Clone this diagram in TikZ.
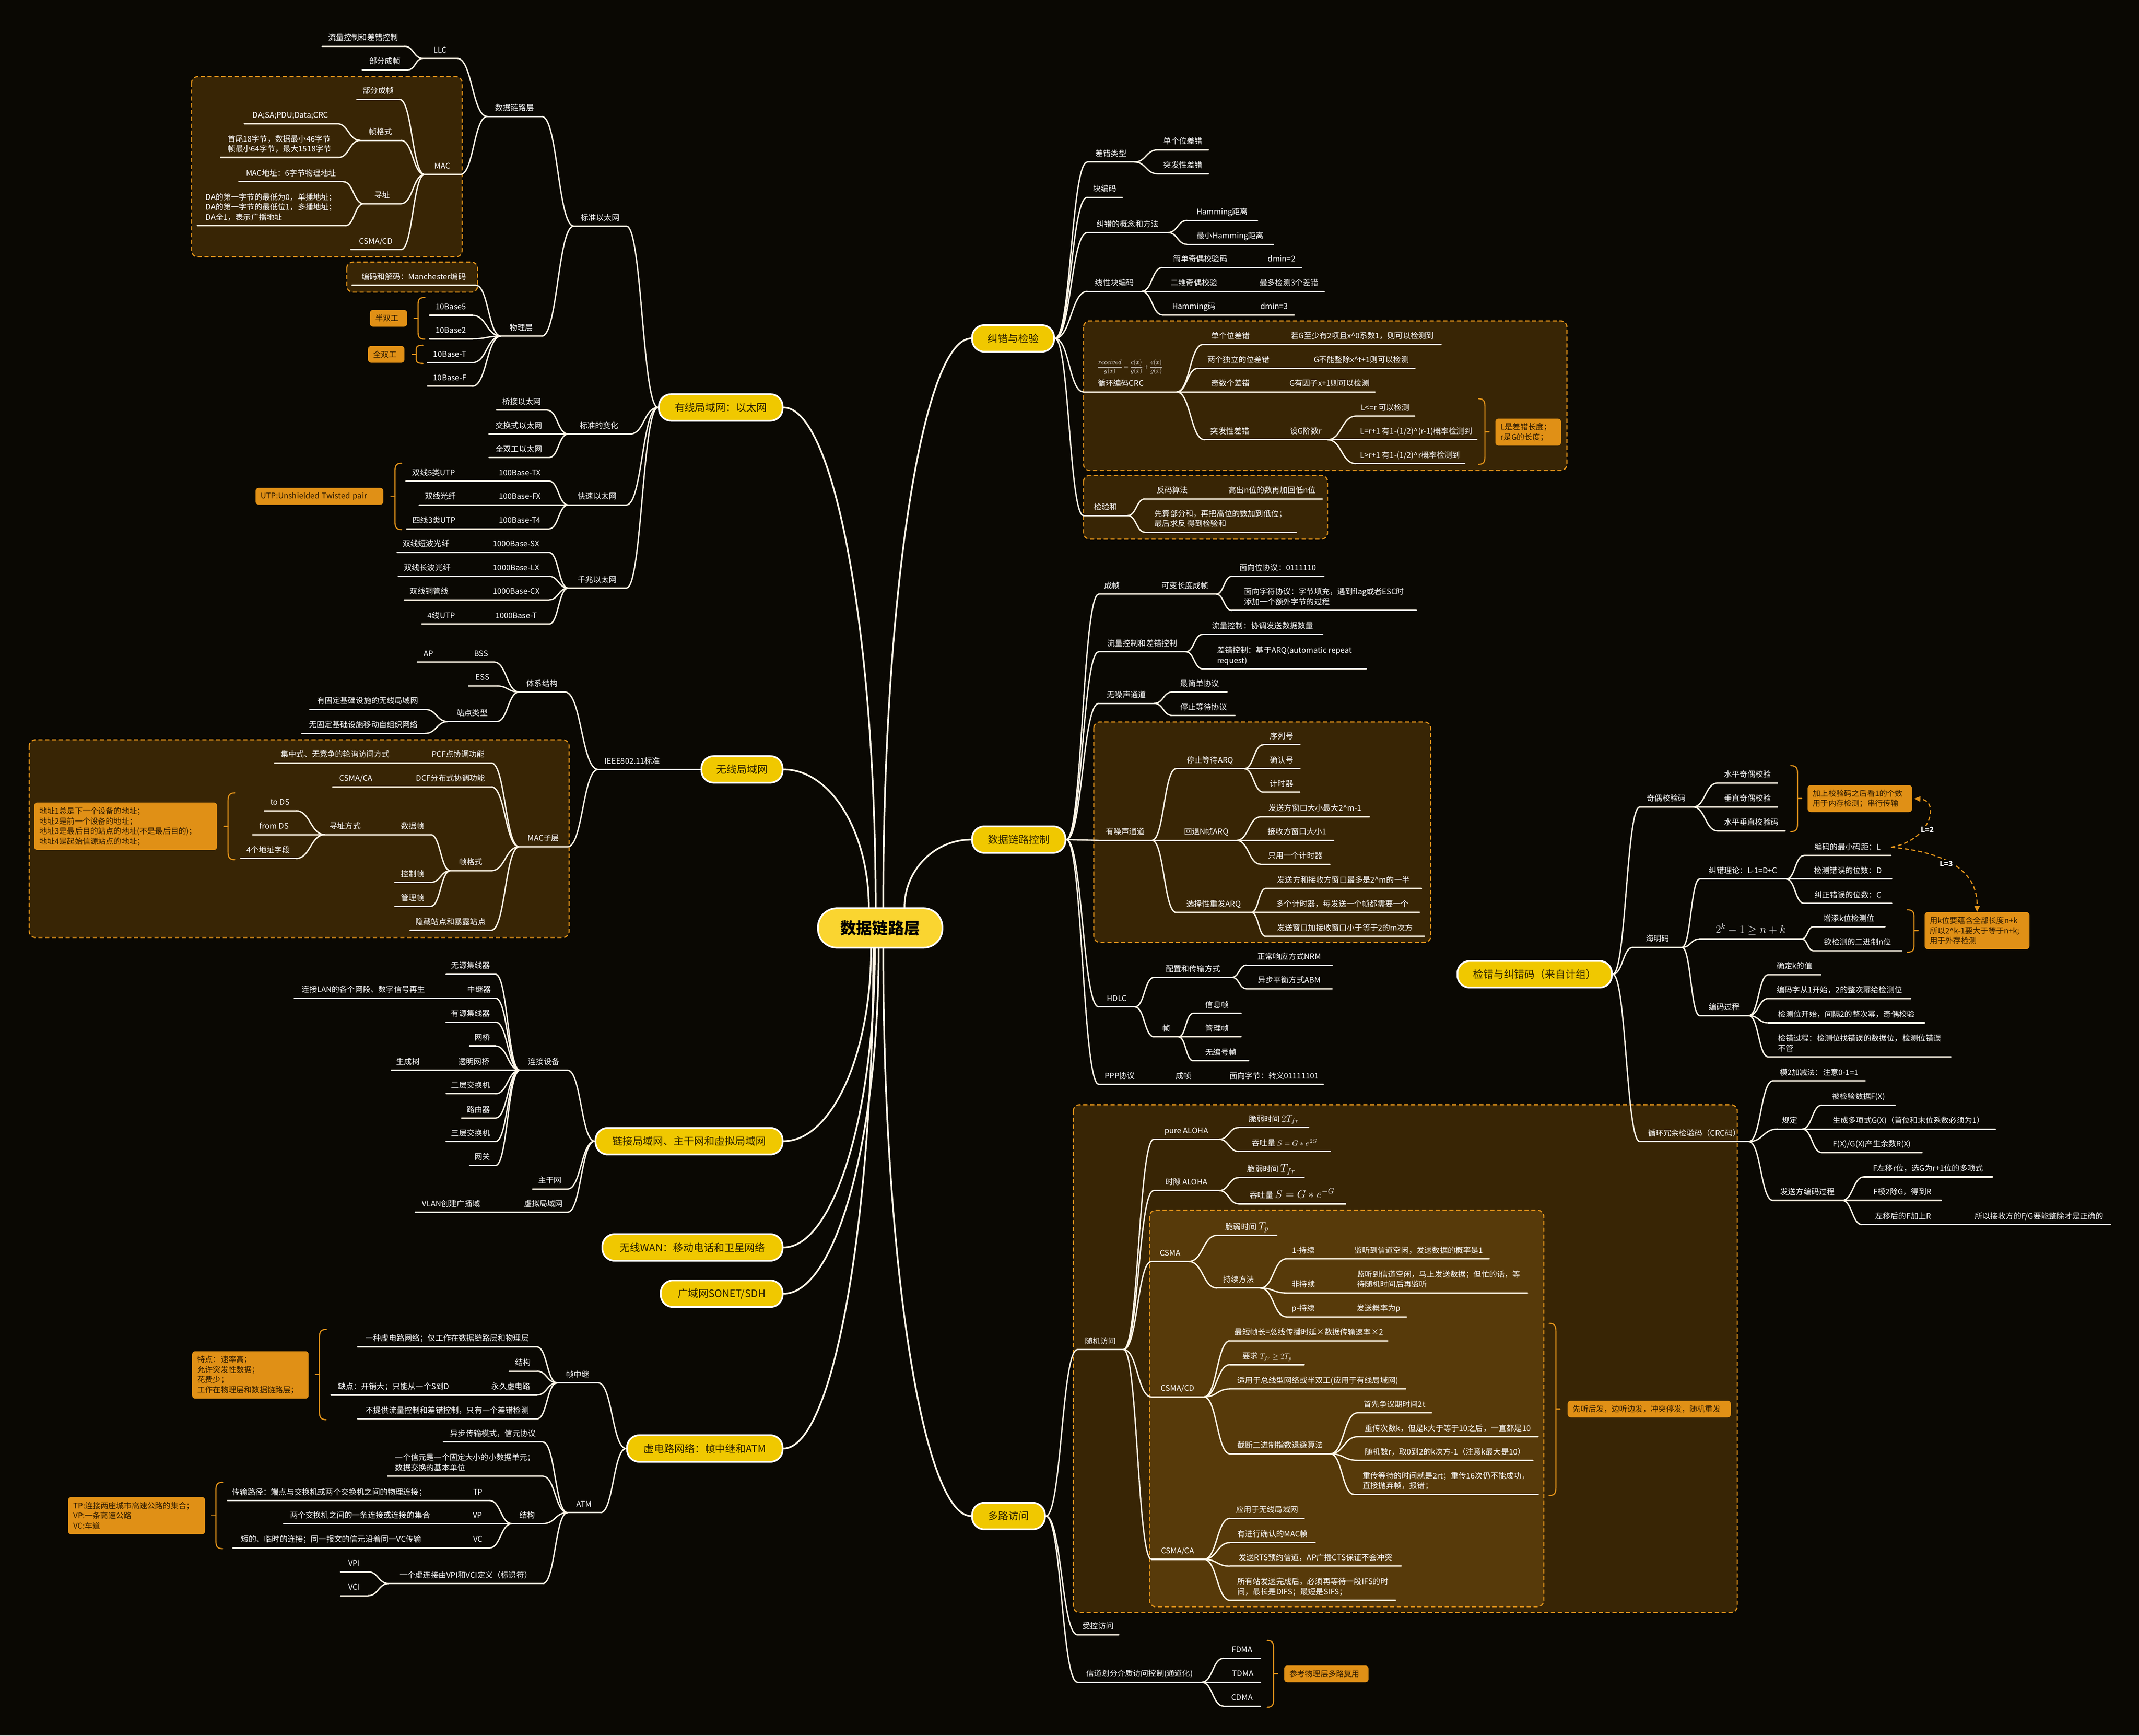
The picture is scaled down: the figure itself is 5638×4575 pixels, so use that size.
\documentclass[tikz,border=0pt]{standalone}
\usepackage{fix-cm}
\usepackage{amsmath}
\usepackage{amssymb}
\usepackage[no-math]{fontspec}
\setmainfont{Noto Sans CJK SC}
\usetikzlibrary{calc,arrows.meta}
\newcommand{\tpfont}{\fontsize{20.5}{26.5}\selectfont}
\newcommand{\brfont}{\fontsize{27}{32}\selectfont}
\newcommand{\rootfont}{\fontsize{42}{48}\selectfont\bfseries}
\definecolor{bgc}{HTML}{0A0803}
\definecolor{lwhite}{HTML}{FFF7E8}
\definecolor{ybr}{HTML}{F0C800}
\definecolor{yroot}{HTML}{FAD530}
\definecolor{tdark}{HTML}{2B2000}
\definecolor{dorange}{HTML}{E0921A}
\definecolor{dbrown}{HTML}{382505}
\definecolor{dbrowntwo}{HTML}{573A0A}
\definecolor{onote}{HTML}{E09016}
\definecolor{tnote}{HTML}{2A1800}
\tikzstyle{uline}=[draw=lwhite, line width=3.5pt, line cap=round]
\tikzstyle{lk}=[draw=lwhite, line width=3.5pt, line cap=round]
\tikzstyle{rootlk}=[draw=lwhite, line width=4.5pt, line cap=round]
\tikzstyle{dbox}=[draw=dorange, line width=3pt, dash pattern=on 11pt off 7pt, fill=dbrown, rounded corners=16pt]
\tikzstyle{brk}=[draw=dorange, line width=3pt, line cap=round]
\tikzstyle{branch}=[draw=white, line width=4.5pt, fill=ybr, rounded corners=32pt, minimum height=70pt, text=tdark, font=\brfont, inner xsep=20pt]
\tikzstyle{rootbox}=[draw=white, line width=4.5pt, fill=yroot, rounded corners=50pt, minimum height=104pt, minimum width=328pt, text=black, font=\rootfont]
\tikzstyle{dar}=[draw=dorange, line width=3pt, dash pattern=on 11pt off 7pt, -{Triangle[length=16pt,width=14pt]}]
\tikzstyle{arrlbl}=[fill=bgc, text=white, inner sep=3pt, font=\fontsize{19}{20}\selectfont\bfseries]
\tikzset{
  topic/.style={inner xsep=12pt, inner ysep=11pt, text depth=4pt, text=white, font=\tpfont, align=left,
                append after command={(\tikzlastnode.south west) edge[uline] (\tikzlastnode.south east)}},
  lt/.style={topic, anchor=south east, minimum width=#1},
  rt/.style={topic, anchor=south west, minimum width=#1},
  note/.style={fill=onote, rounded corners=8pt, text=tnote, font=\tpfont, align=left,
               inner xsep=14pt, inner ysep=6pt, minimum height=44pt, text width=#1},
  % child curves: flat at both ends
  tochild/.style={to path={.. controls ($(\tikztostart)!0.5!(\tikztotarget |- \tikztostart)$)
                   and ($(\tikztotarget)!0.5!(\tikztostart |- \tikztotarget)$) .. (\tikztotarget)}},
  % branch curves: leave the root upright, arrive level
  tobranch/.style={to path={.. controls ($(\tikztostart)!0.55!(\tikztostart |- \tikztotarget)$)
                   and ($(\tikztotarget)!0.55!(\tikztostart |- \tikztotarget)$) .. (\tikztotarget)}}
}
\begin{document}
\begin{tikzpicture}[x=1pt, y=-1pt]
  \fill[bgc] (0,0) rectangle (5638,4575);
  \useasboundingbox (0,0) rectangle (5638,4575);

  % boxes
  \draw[dbox] (505,202) rectangle (1218,677);
  \draw[dbox] (914,691) rectangle (1259,770);
  \draw[dbox] (77,1950) rectangle (1500,2471);
  \draw[dbox] (2856,846) rectangle (4130,1240);
  \draw[dbox] (2856,1253) rectangle (3499,1421);
  \draw[dbox] (2883,1903) rectangle (3771,2484);
  \draw[dbox] (2829,2912) rectangle (4579,4250);
  \draw[dbox, fill=dbrowntwo] (3030,3190) rectangle (4069,4235);

  % brackets
  \foreach \xs/\xe/\ya/\yb/\ym/\r in {1102/1120/784/894/839/22, 1097/1115/910/958/934/14,
      1041/1059/1221/1396/1309/26, 601/619/2090/2266/2178/26, 842/860/3504/3742/3623/26, 569/587/3907/4082/3995/26}{
    \draw[brk] (\xe,\ya) .. controls (\xs,\ya) and (\xs,{\ya+0.4*\r}) .. (\xs,{\ya+\r})
      -- (\xs,{\yb-\r}) .. controls (\xs,{\yb-0.4*\r}) and (\xs,\yb) .. (\xe,\yb);
    \draw[brk] (\xs,\ym) -- ++(-11,0);
  }
  \foreach \xs/\xe/\ya/\yb/\ym/\r in {3914/3897/1051/1224/1138/26, 4738/4720/2018/2192/2105/26,
      5045/5027/2398/2510/2453/24, 4101/4083/3488/3942/3714/26, 3357/3340/4324/4500/4412/26}{
    \draw[brk] (\xe,\ya) .. controls (\xs,\ya) and (\xs,{\ya+0.4*\r}) .. (\xs,{\ya+\r})
      -- (\xs,{\yb-\r}) .. controls (\xs,{\yb-0.4*\r}) and (\xs,\yb) .. (\xe,\yb);
    \draw[brk] (\xs,\ym) -- ++(11,0);
  }

  % root and branches
  \node[rootbox] (root) at (2320,2446) {数据链路层};
  \node[branch, anchor=east, minimum width=326] (wired) at (2065,1074) {有线局域网：以太网};
  \node[branch, anchor=east, minimum width=214] (wlan) at (2065,2028) {无线局域网};
  \node[branch, anchor=east, minimum width=493] (link) at (2065,3008) {链接局域网、主干网和虚拟局域网};
  \node[branch, anchor=east, minimum width=475] (wwan) at (2065,3288) {无线WAN：移动电话和卫星网络};
  \node[branch, anchor=east, minimum width=321] (sonet) at (2065,3410) {广域网SONET/SDH};
  \node[branch, anchor=east, minimum width=410] (vc) at (2065,3818) {虚电路网络：帧中继和ATM};
  \node[branch, anchor=west, minimum width=216] (errc) at (2560,892) {纠错与检验};
  \node[branch, anchor=west, minimum width=246] (dlc) at (2560,2213) {数据链路控制};
  \node[branch, anchor=west, minimum width=192] (macc) at (2560,3996) {多路访问};
  \node[branch, minimum width=407] (ecc) at (4045,2568) {检错与纠错码（来自计组）};

  \coordinate (ra) at ([xshift=-12pt]root.north);
  \coordinate (rb) at ([xshift=-30pt]root.north);
  \coordinate (rc) at ([xshift=8pt]root.north);
  \coordinate (rd) at ([xshift=64pt]root.north);
  \coordinate (re) at ([xshift=-24pt]root.south);
  \coordinate (rf) at ([xshift=-14pt]root.south);
  \coordinate (rg) at ([xshift=-4pt]root.south);
  \coordinate (rh) at ([xshift=-18pt]root.south);
  \coordinate (ri) at ([xshift=8pt]root.south);
  \draw[rootlk] (ra) to[tobranch] (wired.east);
  \draw[rootlk] (rb) to[tobranch] (wlan.east);
  \draw[rootlk] (rc) to[tobranch] (errc.west);
  \draw[rootlk] (rd) to[tobranch] (dlc.west);
  \draw[rootlk] (re) to[tobranch] (link.east);
  \draw[rootlk] (rf) to[tobranch] (wwan.east);
  \draw[rootlk] (rg) to[tobranch] (sonet.east);
  \draw[rootlk] (rh) to[tobranch] (vc.east);
  \draw[rootlk] (ri) to[tobranch] (macc.west);

  % wired LAN
  \node[lt=138] (stdeth) at (1651,596) {标准以太网};
  \node[lt=163] (stdchg) at (1661,1144) {标准的变化};
  \node[lt=153] (fasteth) at (1651,1331) {快速以太网};
  \node[lt=153] (gigeth) at (1651,1550) {千兆以太网};
  \node[lt=143] (dll) at (1428,307) {数据链路层};
  \node[lt=107] (phy) at (1428,886) {物理层};
  \node[lt=90] (llc) at (1205,154) {LLC};
  \node[lt=93] (mac) at (1213,460) {MAC};
  \node[lt=217] (llcflow) at (1066,122) {流量控制和差错控制};
  \node[lt=120] (llcframe) at (1075,184) {部分成帧};
  \node[lt=112] (macframe) at (1053,262) {部分成帧};
  \node[lt=107] (macfmt) at (1057,370) {帧格式};
  \node[lt=98] (macaddr) at (1057,537) {寻址};
  \node[lt=132] (maccsma) at (1057,658) {CSMA/CD};
  \node[lt=244] (fmtfld) at (888,326) {DA;SA;PDU;Data;CRC};
  \node[lt=310] (fmtlen) at (892,415) {首尾18字节，数据最小46字节\\帧最小64字节，最大1518字节};
  \node[lt=275] (addrmac) at (905,479) {MAC地址：6字节物理地址};
  \node[lt=390] (addrda) at (910,595) {DA的第一字节的最低为0，单播地址；\\DA的第一字节的最低位1，多播地址；\\DA全1，表示广播地址};
  \node[lt=326] (manch) at (1254,752) {编码和解码：Manchester编码};
  \node[lt=112] (b5) at (1245,831) {10Base5};
  \node[lt=112] (b2) at (1245,893) {10Base2};
  \node[lt=118] (bt) at (1245,956) {10Base-T};
  \node[lt=118] (bf) at (1245,1018) {10Base-F};
  \node[lt=133] (bridge) at (1442,1081) {桥接以太网};
  \node[lt=158] (switch) at (1447,1144) {交换式以太网};
  \node[lt=158] (fdx) at (1447,1206) {全双工以太网};
  \node[lt=153] (tx) at (1447,1268) {100Base-TX};
  \node[lt=147] (txm) at (1217,1268) {双线5类UTP};
  \node[lt=153] (fx) at (1447,1331) {100Base-FX};
  \node[lt=112] (fxm) at (1217,1331) {双线光纤};
  \node[lt=153] (t4) at (1447,1394) {100Base-T4};
  \node[lt=145] (t4m) at (1217,1394) {四线3类UTP};
  \node[lt=172] (sx) at (1447,1456) {1000Base-SX};
  \node[lt=152] (sxm) at (1199,1456) {双线短波光纤};
  \node[lt=172] (lx) at (1447,1519) {1000Base-LX};
  \node[lt=153] (lxm) at (1203,1519) {双线长波光纤};
  \node[lt=172] (cx) at (1447,1581) {1000Base-CX};
  \node[lt=131] (cxm) at (1197,1581) {双线铜管线};
  \node[lt=172] (gt) at (1447,1645) {1000Base-T};
  \node[lt=103] (gtm) at (1215,1645) {4线UTP};
  \node[note=70] (halfdup) at (1024,839) {半双工};
  \node[note=68] (fulldup) at (1018,934) {全双工};
  \node[note=309] (utpnote) at (842,1308) {UTP:Unshielded Twisted pair};

  % wireless LAN
  \node[lt=180] (ieee) at (1757,2028) {IEEE802.11标准};
  \node[lt=120] (arch) at (1489,1824) {体系结构};
  \node[lt=127] (mac11) at (1496,2232) {MAC子层};
  \node[lt=67] (bss) at (1302,1745) {BSS};
  \node[lt=60] (ap) at (1160,1745) {AP};
  \node[lt=74] (ess) at (1309,1808) {ESS};
  \node[lt=128] (stype) at (1309,1902) {站点类型};
  \node[lt=304] (infra) at (1121,1870) {有固定基础设施的无线局域网};
  \node[lt=325] (adhoc) at (1121,1933) {无固定基础设施移动自组织网络};
  \node[lt=174] (pcf) at (1295,2011) {PCF点协调功能};
  \node[lt=320] (pcfm) at (1044,2011) {集中式、无竞争的轮询访问方式};
  \node[lt=214] (dcf) at (1295,2074) {DCF分布式协调功能};
  \node[lt=123] (dcfm) at (1000,2074) {CSMA/CA};
  \node[lt=107] (wfmt) at (1295,2295) {帧格式};
  \node[lt=214] (hidden) at (1295,2452) {隐藏站点和暴露站点};
  \node[lt=94] (dframe) at (1135,2200) {数据帧};
  \node[lt=106] (addrmode) at (963,2200) {寻址方式};
  \node[lt=83] (tods) at (780,2137) {to DS};
  \node[lt=114] (fromds) at (780,2200) {from DS};
  \node[lt=145] (addr4) at (780,2263) {4个地址字段};
  \node[lt=94] (cframe) at (1135,2326) {控制帧};
  \node[lt=94] (mframe) at (1135,2389) {管理帧};
  \node[note=454, minimum height=125pt] (addrnote) at (331,2178) {地址1总是下一个设备的地址；\\地址2是前一个设备的地址；\\地址3是最后目的站点的地址(不是最后目的)；\\地址4是起始信源站点的地址；};

  % linked LAN
  \node[lt=125] (conn) at (1496,2821) {连接设备};
  \node[lt=92] (backbone) at (1496,3134) {主干网};
  \node[lt=125] (vlan) at (1496,3195) {虚拟局域网};
  \node[lt=189] (vlanm) at (1284,3195) {VLAN创建广播域};
  \node[lt=130] (hubzero) at (1306,2568) {无源集线器};
  \node[lt=81] (rep) at (1306,2631) {中继器};
  \node[lt=364] (repm) at (1140,2631) {连接LAN的各个网段、数字信号再生};
  \node[lt=130] (hubone) at (1306,2694) {有源集线器};
  \node[lt=68] (br) at (1306,2757) {网桥};
  \node[lt=113] (tbr) at (1306,2821) {透明网桥};
  \node[lt=88] (stree) at (1120,2821) {生成树};
  \node[lt=130] (swtwo) at (1306,2883) {二层交换机};
  \node[lt=89] (router) at (1306,2947) {路由器};
  \node[lt=130] (swthree) at (1306,3009) {三层交换机};
  \node[lt=68] (gw) at (1306,3072) {网关};

  % virtual circuit
  \node[lt=108] (fr) at (1577,3645) {帧中继};
  \node[lt=87] (atm) at (1583,3987) {ATM};
  \node[lt=472] (frone) at (1415,3550) {一种虚电路网络；仅工作在数据链路层和物理层};
  \node[lt=73] (frtwo) at (1415,3614) {结构};
  \node[lt=136] (frthree) at (1415,3677) {永久虚电路};
  \node[lt=329] (frthreem) at (1202,3677) {缺点：开销大；只能从一个S到D};
  \node[lt=472] (frfour) at (1415,3740) {不提供流量控制和差错控制，只有一个差错检测};
  \node[lt=262] (atmone) at (1431,3801) {异步传输模式，信元协议};
  \node[lt=409] (atmtwo) at (1431,3891) {一个信元是一个固定大小的小数据单元；\\数据交换的基本单位};
  \node[lt=81] (atmst) at (1431,4016) {结构};
  \node[lt=406] (atmid) at (1431,4174) {一个虚连接由VPI和VCI定义（标识符）};
  \node[lt=60] (tp) at (1290,3955) {TP};
  \node[lt=537] (tpm) at (1137,3955) {传输路径：端点与交换机或两个交换机之间的物理连接；};
  \node[lt=62] (vp) at (1290,4016) {VP};
  \node[lt=403] (vpm) at (1151,4016) {两个交换机之间的一条连接或连接的集合};
  \node[lt=60] (vcx) at (1290,4080) {VC};
  \node[lt=518] (vcxm) at (1132,4080) {短的、临时的连接；同一报文的信元沿着同一VC传输};
  \node[lt=72] (vpi) at (970,4143) {VPI};
  \node[lt=72] (vci) at (970,4206) {VCI};
  \node[note=279, minimum height=125pt] (frnote) at (660,3624) {特点：速率高；\\允许突发性数据；\\花费少；\\工作在物理层和数据链路层；};
  \node[note=333, minimum height=98pt] (tpnote) at (360,3995) {TP:连接两座城市高速公路的集合；\\VP:一条高速公路\\VC:车道};

  % error detection
  \node[rt=124] (etype) at (2866,427) {差错类型};
  \node[rt=134] (eone) at (3051,395) {单个位差错};
  \node[rt=134] (etwo) at (3051,458) {突发性差错};
  \node[rt=92] (block) at (2866,520) {块编码};
  \node[rt=212] (ecorr) at (2866,613) {纠错的概念和方法};
  \node[rt=185] (hd) at (3129,581) {Hamming距离};
  \node[rt=227] (hmin) at (3129,644) {最小Hamming距离};
  \node[rt=143] (linblk) at (2866,768) {线性块编码};
  \node[rt=199] (par) at (3064,705) {简单奇偶校验码};
  \node[rt=104] (parm) at (3326,705) {dmin=2};
  \node[rt=166] (partwo) at (3064,768) {二维奇偶校验};
  \node[rt=185] (partwom) at (3305,768) {最多检测3个差错};
  \node[rt=166] (hcode) at (3064,830) {Hamming码};
  \node[rt=105] (hcodem) at (3306,830) {dmin=3};
  \node[rt=245] (crc) at (2856,1033) {{\fontsize{17}{17}\selectfont$\dfrac{received}{g(x)}=\dfrac{c(x)}{g(x)}+\dfrac{e(x)}{g(x)}$}\\[12pt]循环编码CRC};
  \node[rt=145] (crcone) at (3171,908) {单个位差错};
  \node[rt=414] (crconem) at (3384,908) {若G至少有2项且x\textasciicircum 0系数1，则可以检测到};
  \node[rt=215] (crctwo) at (3157,971) {两个独立的位差错};
  \node[rt=282] (crctwom) at (3447,971) {G不能整除x\textasciicircum t+1则可以检测};
  \node[rt=131] (crcthree) at (3178,1033) {奇数个差错};
  \node[rt=240] (crcthreem) at (3384,1033) {G有因子x+1则可以检测};
  \node[rt=134] (crcfour) at (3175,1159) {突发性差错};
  \node[rt=115] (crcfourm) at (3384,1159) {设G阶数r};
  \node[rt=156] (lrone) at (3573,1097) {L<=r 可以检测};
  \node[rt=307] (lrtwo) at (3573,1159) {L=r+1 有1-(1/2)\textasciicircum(r-1)概率检测到};
  \node[rt=280] (lrthree) at (3573,1222) {L>r+1 有1-(1/2)\textasciicircum r概率检测到};
  \node[note=145, minimum height=71pt] (lnote) at (4028,1139) {L是差错长度；\\r是G的长度；};
  \node[rt=116] (csum) at (2856,1359) {检验和};
  \node[rt=144] (inv) at (3018,1315) {反码算法};
  \node[rt=264] (invm) at (3221,1315) {高出n位的数再加回低n位};
  \node[rt=398] (psum) at (3018,1403) {先算部分和，再把高位的数加到低位；\\最后求反 得到检验和};

  % data link control
  \node[rt=70] (framing) at (2896,1566) {成帧};
  \node[rt=163] (vlf) at (3042,1566) {可变长度成帧};
  \node[rt=242] (bitp) at (3247,1519) {面向位协议：0111110};
  \node[rt=486] (charp) at (3247,1609) {面向字符协议：字节填充，遇到flag或者ESC时\\添加一个额外字节的过程};
  \node[rt=229] (fec) at (2896,1718) {流量控制和差错控制};
  \node[rt=316] (fc) at (3170,1672) {流量控制：协调发送数据数量};
  \node[rt=431] (ec) at (3170,1763) {差错控制：基于ARQ(automatic repeat\\request)};
  \node[rt=146] (noiseless) at (2896,1854) {无噪声通道};
  \node[rt=144] (simplest) at (3090,1824) {最简单协议};
  \node[rt=165] (sw) at (3090,1886) {停止等待协议};
  \node[rt=140] (noisy) at (2896,2215) {有噪声通道};
  \node[rt=179] (swarq) at (3100,2026) {停止等待ARQ};
  \node[rt=96] (seq) at (3330,1963) {序列号};
  \node[rt=96] (ack) at (3330,2026) {确认号};
  \node[rt=96] (timer) at (3330,2088) {计时器};
  \node[rt=159] (gbn) at (3100,2215) {回退N帧ARQ};
  \node[rt=286] (gbnone) at (3323,2153) {发送方窗口大小最大2\textasciicircum m-1};
  \node[rt=192] (gbntwo) at (3323,2215) {接收方窗口大小1};
  \node[rt=182] (gbnthree) at (3323,2278) {只用一个计时器};
  \node[rt=198] (sr) at (3100,2405) {选择性重发ARQ};
  \node[rt=410] (srone) at (3336,2342) {发送方和接收方窗口最多是2\textasciicircum m的一半};
  \node[rt=405] (srtwo) at (3336,2405) {多个计时器，每发送一个帧都需要一个};
  \node[rt=418] (srthree) at (3336,2468) {发送窗口加接收窗口小于等于2的m次方};
  \node[rt=95] (hdlc) at (2896,2654) {HDLC};
  \node[rt=205] (cfg) at (3042,2576) {配置和传输方式};
  \node[rt=226] (nrm) at (3285,2544) {正常响应方式NRM};
  \node[rt=226] (abm) at (3285,2606) {异步平衡方式ABM};
  \node[rt=64] (hframe) at (3042,2733) {帧};
  \node[rt=126] (iframe) at (3145,2671) {信息帧};
  \node[rt=126] (sframe) at (3145,2733) {管理帧};
  \node[rt=146] (uframe) at (3145,2796) {无编号帧};
  \node[rt=111] (ppp) at (2896,2858) {PPP协议};
  \node[rt=68] (pppf) at (3085,2858) {成帧};
  \node[rt=249] (pppm) at (3229,2858) {面向字节：转义01111101};

  % multiple access
  \node[rt=121] (rand) at (2840,3557) {随机访问};
  \node[rt=172] (paloha) at (3041,3003) {pure ALOHA};
  \node[rt=184] (pv) at (3265,2972) {脆弱时间 {\fontsize{25}{25}\selectfont$2T_{fr}$}};
  \node[rt=241] (pt) at (3265,3035) {吞吐量 $S=G*e^{\,2G}$};
  \node[rt=172] (saloha) at (3041,3138) {时隙 ALOHA};
  \node[rt=172] (sv) at (3265,3104) {脆弱时间 {\fontsize{30}{30}\selectfont$T_{fr}$}};
  \node[rt=281] (st) at (3265,3173) {吞吐量 {\fontsize{30}{30}\selectfont$S=G*e^{-G}$}};
  \node[rt=98] (csma) at (3035,3325) {CSMA};
  \node[rt=157] (cv) at (3208,3256) {脆弱时间 {\fontsize{28}{28}\selectfont$T_p$}};
  \node[rt=114] (persist) at (3208,3395) {持续方法};
  \node[rt=89] (pone) at (3391,3318) {1-持续};
  \node[rt=371] (ponem) at (3554,3318) {监听到信道空闲，发送数据的概率是1};
  \node[rt=89] (pzero) at (3391,3408) {非持续};
  \node[rt=468] (pzerom) at (3558,3408) {监听到信道空闲，马上发送数据；但忙的话，等\\待随机时间后再监听};
  \node[rt=89] (pp) at (3391,3471) {p-持续};
  \node[rt=147] (ppm) at (3560,3471) {发送概率为p};
  \node[rt=138] (cd) at (3035,3682) {CSMA/CD};
  \node[rt=408] (cdone) at (3242,3534) {最短帧长=总线传播时延×数据传输速率×2};
  \node[rt=195] (cdtwo) at (3242,3597) {要求 $T_{fr}\geq 2T_p$};
  \node[rt=463] (cdthree) at (3242,3661) {适用于总线型网络或半双工(应用于有线局域网)};
  \node[rt=264] (beb) at (3242,3832) {截断二进制指数退避算法};
  \node[rt=195] (bebone) at (3578,3724) {首先争议期时间2t};
  \node[rt=476] (bebtwo) at (3578,3787) {重传次数k，但是k大于等于10之后，一直都是10};
  \node[rt=462] (bebthree) at (3578,3849) {随机数r，取0到2的k次方-1（注意k最大是10）};
  \node[rt=485] (bebfour) at (3569,3939) {重传等待的时间就是2rt；重传16次仍不能成功，\\直接抛弃帧，报错；};
  \node[rt=138] (ca) at (3035,4110) {CSMA/CA};
  \node[rt=195] (caone) at (3242,4002) {应用于无线局域网};
  \node[rt=224] (catwo) at (3242,4066) {有进行确认的MAC帧};
  \node[rt=451] (cathree) at (3242,4128) {发送RTS预约信道，AP广播CTS保证不会冲突};
  \node[rt=436] (cafour) at (3242,4218) {所有站发送完成后，必须再等待一段IFS的时\\间，最长是DIFS；最短是SIFS；};
  \node[rt=109] (ctrl) at (2840,4309) {受控访问};
  \node[rt=327] (chan) at (2840,4434) {信道划分介质访问控制(通道化)};
  \node[rt=97] (fdma) at (3225,4371) {FDMA};
  \node[rt=92] (tdma) at (3230,4434) {TDMA};
  \node[rt=97] (cdma) at (3225,4497) {CDMA};
  \node[note=402] (csmanote) at (4347,3714) {先听后发，边听边发，冲突停发，随机重发};
  \node[note=194] (muxnote) at (3496,4412) {参考物理层多路复用};

  % codes (floating topic)
  \node[rt=140] (parity) at (4322,2127) {奇偶校验码};
  \node[rt=158] (hpar) at (4527,2064) {水平奇偶校验};
  \node[rt=158] (vpar) at (4527,2127) {垂直奇偶校验};
  \node[rt=178] (hvpar) at (4527,2190) {水平垂直校验码};
  \node[rt=129] (hamming) at (4304,2497) {海明码};
  \node[rt=228] (etheory) at (4480,2317) {纠错理论：L-1=D+C};
  \node[rt=229] (mind) at (4755,2255) {编码的最小码距：L};
  \node[rt=231] (detd) at (4755,2317) {检测错误的位数：D};
  \node[rt=231] (corc) at (4755,2381) {纠正错误的位数：C};
  \node[rt=269] (ineq) at (4480,2475) {{\fontsize{30}{30}\selectfont$2^k-1\geq n+k$}};
  \node[rt=189] (addk) at (4779,2443) {增添k位检测位};
  \node[rt=234] (detn) at (4779,2506) {欲检测的二进制n位};
  \node[rt=129] (encp) at (4480,2677) {编码过程};
  \node[rt=138] (encone) at (4661,2569) {确定k的值};
  \node[rt=375] (enctwo) at (4661,2632) {编码字从1开始，2的整次幂给检测位};
  \node[rt=411] (encthree) at (4661,2696) {检测位开始，间隔2的整次幂，奇偶校验};
  \node[rt=481] (encfour) at (4661,2786) {检错过程：检测位找错误的数据位，检测位错误\\不管};
  \node[rt=287] (crcc) at (4322,3009) {循环冗余检验码（CRC码）};
  \node[rt=243] (modtwo) at (4673,2849) {模2加减法：注意0-1=1};
  \node[rt=64] (rule) at (4685,2976) {规定};
  \node[rt=193] (rulef) at (4802,2913) {被检验数据F(X)};
  \node[rt=457] (ruleg) at (4802,2976) {生成多项式G(X)（首位和末位系数必须为1）};
  \node[rt=264] (ruler) at (4802,3038) {F(X)/G(X)产生余数R(X)};
  \node[rt=182] (sendp) at (4673,3164) {发送方编码过程};
  \node[rt=338] (sendone) at (4913,3102) {F左移r位，选G为r+1位的多项式};
  \node[rt=203] (sendtwo) at (4913,3164) {F模2除G，得到R};
  \node[rt=216] (sendthree) at (4908,3228) {左移后的F加上R};
  \node[rt=375] (sendthreem) at (5187,3228) {所以接收方的F/G要能整除才是正确的};
  \node[note=247, minimum height=71pt] (paritynote) at (4902,2105) {加上校验码之后看1的个数\\用于内存检测；串行传输};
  \node[note=248, minimum height=98pt] (hamnote) at (5211,2453) {用k位要蕴含全部长度n+k\\所以2\textasciicircum k-1要大于等于n+k;\\用于外存检测};
  \draw[dar] (mind.east) .. controls (5090,2215) and (5115,2110) .. ([xshift=6pt]paritynote.east);
  \draw[dar] (mind.east) .. controls (5120,2245) and (5213,2290) .. (hamnote.north);
  \node[arrlbl] (ltwo) at (5080,2187) {L=2};
  \node[arrlbl] (lthree) at (5130,2277) {L=3};

  % connectors, left side
  \foreach \c in {stdeth,stdchg,fasteth,gigeth} \draw[lk] (wired.west) to[tochild] (\c.south east);
  \foreach \c in {dll,phy} \draw[lk] (stdeth.south west) to[tochild] (\c.south east);
  \foreach \c in {llc,mac} \draw[lk] (dll.south west) to[tochild] (\c.south east);
  \foreach \c in {llcflow,llcframe} \draw[lk] (llc.south west) to[tochild] (\c.south east);
  \foreach \c in {macframe,macfmt,macaddr,maccsma} \draw[lk] (mac.south west) to[tochild] (\c.south east);
  \foreach \c in {fmtfld,fmtlen} \draw[lk] (macfmt.south west) to[tochild] (\c.south east);
  \foreach \c in {addrmac,addrda} \draw[lk] (macaddr.south west) to[tochild] (\c.south east);
  \foreach \c in {manch,b5,b2,bt,bf} \draw[lk] (phy.south west) to[tochild] (\c.south east);
  \foreach \c in {bridge,switch,fdx} \draw[lk] (stdchg.south west) to[tochild] (\c.south east);
  \foreach \c in {tx,fx,t4} \draw[lk] (fasteth.south west) to[tochild] (\c.south east);
  \foreach \c in {sx,lx,cx,gt} \draw[lk] (gigeth.south west) to[tochild] (\c.south east);
  \foreach \p in {tx,fx,t4,sx,lx,cx,gt} \draw[lk] (\p.south west) -- (\p m.south east);
  \draw[lk] (wlan.west) to[tochild] (ieee.south east);
  \foreach \c in {arch,mac11} \draw[lk] (ieee.south west) to[tochild] (\c.south east);
  \foreach \c in {bss,ess,stype} \draw[lk] (arch.south west) to[tochild] (\c.south east);
  \draw[lk] (bss.south west) -- (ap.south east);
  \foreach \c in {infra,adhoc} \draw[lk] (stype.south west) to[tochild] (\c.south east);
  \foreach \c in {pcf,dcf,wfmt,hidden} \draw[lk] (mac11.south west) to[tochild] (\c.south east);
  \draw[lk] (pcf.south west) -- (pcfm.south east);
  \draw[lk] (dcf.south west) -- (dcfm.south east);
  \foreach \c in {dframe,cframe,mframe} \draw[lk] (wfmt.south west) to[tochild] (\c.south east);
  \draw[lk] (dframe.south west) -- (addrmode.south east);
  \foreach \c in {tods,fromds,addr4} \draw[lk] (addrmode.south west) to[tochild] (\c.south east);
  \foreach \c in {conn,backbone,vlan} \draw[lk] (link.west) to[tochild] (\c.south east);
  \foreach \c in {hubzero,rep,hubone,br,tbr,swtwo,router,swthree,gw} \draw[lk] (conn.south west) to[tochild] (\c.south east);
  \draw[lk] (rep.south west) -- (repm.south east);
  \draw[lk] (tbr.south west) -- (stree.south east);
  \draw[lk] (vlan.south west) -- (vlanm.south east);
  \foreach \c in {fr,atm} \draw[lk] (vc.west) to[tochild] (\c.south east);
  \foreach \c in {frone,frtwo,frthree,frfour} \draw[lk] (fr.south west) to[tochild] (\c.south east);
  \draw[lk] (frthree.south west) -- (frthreem.south east);
  \foreach \c in {atmone,atmtwo,atmst,atmid} \draw[lk] (atm.south west) to[tochild] (\c.south east);
  \foreach \c in {tp,vp,vcx} \draw[lk] (atmst.south west) to[tochild] (\c.south east);
  \foreach \p in {tp,vp,vcx} \draw[lk] (\p.south west) -- (\p m.south east);
  \foreach \c in {vpi,vci} \draw[lk] (atmid.south west) to[tochild] (\c.south east);

  % connectors, right side
  \foreach \c in {etype,block,ecorr,linblk,crc,csum} \draw[lk] (errc.east) to[tochild] (\c.south west);
  \foreach \c in {eone,etwo} \draw[lk] (etype.south east) to[tochild] (\c.south west);
  \foreach \c in {hd,hmin} \draw[lk] (ecorr.south east) to[tochild] (\c.south west);
  \foreach \c in {par,partwo,hcode} \draw[lk] (linblk.south east) to[tochild] (\c.south west);
  \foreach \p in {par,partwo,hcode} \draw[lk] (\p.south east) -- (\p m.south west);
  \foreach \c in {crcone,crctwo,crcthree,crcfour} \draw[lk] (crc.south east) to[tochild] (\c.south west);
  \foreach \p in {crcone,crctwo,crcthree,crcfour} \draw[lk] (\p.south east) -- (\p m.south west);
  \foreach \c in {lrone,lrtwo,lrthree} \draw[lk] (crcfourm.south east) to[tochild] (\c.south west);
  \foreach \c in {inv,psum} \draw[lk] (csum.south east) to[tochild] (\c.south west);
  \draw[lk] (inv.south east) -- (invm.south west);
  \foreach \c in {framing,fec,noiseless,noisy,hdlc,ppp} \draw[lk] (dlc.east) to[tochild] (\c.south west);
  \draw[lk] (framing.south east) -- (vlf.south west);
  \foreach \c in {bitp,charp} \draw[lk] (vlf.south east) to[tochild] (\c.south west);
  \foreach \c in {fc,ec} \draw[lk] (fec.south east) to[tochild] (\c.south west);
  \foreach \c in {simplest,sw} \draw[lk] (noiseless.south east) to[tochild] (\c.south west);
  \foreach \c in {swarq,gbn,sr} \draw[lk] (noisy.south east) to[tochild] (\c.south west);
  \foreach \c in {seq,ack,timer} \draw[lk] (swarq.south east) to[tochild] (\c.south west);
  \foreach \c in {gbnone,gbntwo,gbnthree} \draw[lk] (gbn.south east) to[tochild] (\c.south west);
  \foreach \c in {srone,srtwo,srthree} \draw[lk] (sr.south east) to[tochild] (\c.south west);
  \foreach \c in {cfg,hframe} \draw[lk] (hdlc.south east) to[tochild] (\c.south west);
  \foreach \c in {nrm,abm} \draw[lk] (cfg.south east) to[tochild] (\c.south west);
  \foreach \c in {iframe,sframe,uframe} \draw[lk] (hframe.south east) to[tochild] (\c.south west);
  \draw[lk] (ppp.south east) -- (pppf.south west) (pppf.south east) -- (pppm.south west);
  \foreach \c in {rand,ctrl,chan} \draw[lk] (macc.east) to[tochild] (\c.south west);
  \foreach \c in {paloha,saloha,csma,cd,ca} \draw[lk] (rand.south east) to[tochild] (\c.south west);
  \foreach \c in {pv,pt} \draw[lk] (paloha.south east) to[tochild] (\c.south west);
  \foreach \c in {sv,st} \draw[lk] (saloha.south east) to[tochild] (\c.south west);
  \foreach \c in {cv,persist} \draw[lk] (csma.south east) to[tochild] (\c.south west);
  \foreach \c in {pone,pzero,pp} \draw[lk] (persist.south east) to[tochild] (\c.south west);
  \foreach \p in {pone,pzero,pp} \draw[lk] (\p.south east) -- (\p m.south west);
  \foreach \c in {cdone,cdtwo,cdthree,beb} \draw[lk] (cd.south east) to[tochild] (\c.south west);
  \foreach \c in {bebone,bebtwo,bebthree,bebfour} \draw[lk] (beb.south east) to[tochild] (\c.south west);
  \foreach \c in {caone,catwo,cathree,cafour} \draw[lk] (ca.south east) to[tochild] (\c.south west);
  \foreach \c in {fdma,tdma,cdma} \draw[lk] (chan.south east) to[tochild] (\c.south west);
  \foreach \c in {parity,hamming,crcc} \draw[lk] (ecc.east) to[tochild] (\c.south west);
  \foreach \c in {hpar,vpar,hvpar} \draw[lk] (parity.south east) to[tochild] (\c.south west);
  \foreach \c in {etheory,ineq,encp} \draw[lk] (hamming.south east) to[tochild] (\c.south west);
  \foreach \c in {mind,detd,corc} \draw[lk] (etheory.south east) to[tochild] (\c.south west);
  \foreach \c in {addk,detn} \draw[lk] (ineq.south east) to[tochild] (\c.south west);
  \foreach \c in {encone,enctwo,encthree,encfour} \draw[lk] (encp.south east) to[tochild] (\c.south west);
  \foreach \c in {modtwo,rule,sendp} \draw[lk] (crcc.south east) to[tochild] (\c.south west);
  \foreach \c in {rulef,ruleg,ruler} \draw[lk] (rule.south east) to[tochild] (\c.south west);
  \foreach \c in {sendone,sendtwo,sendthree} \draw[lk] (sendp.south east) to[tochild] (\c.south west);
  \draw[lk] (sendthree.south east) -- (sendthreem.south west);
\end{tikzpicture}
\end{document}
